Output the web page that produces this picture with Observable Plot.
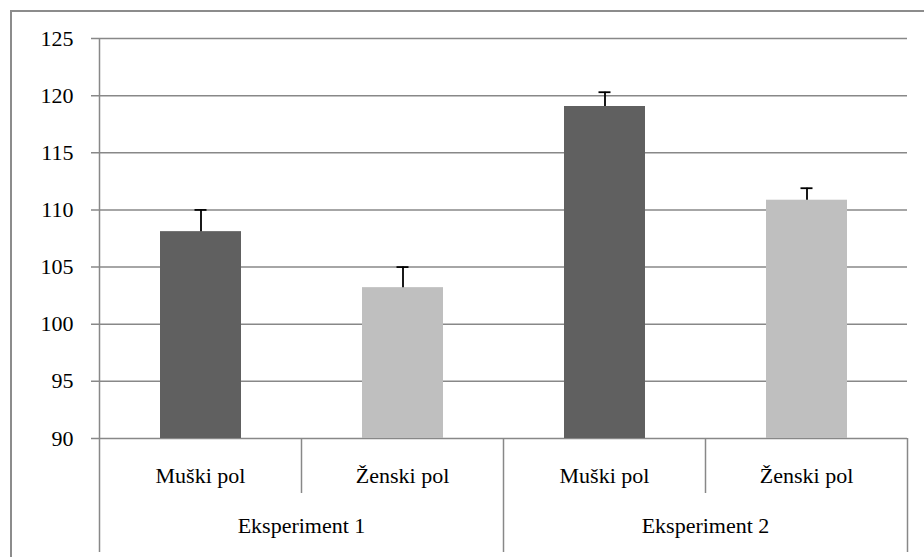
<!DOCTYPE html>
<html>
<head>
<meta charset="utf-8">
<script src="https://cdn.jsdelivr.net/npm/d3@7"></script>
<script src="https://cdn.jsdelivr.net/npm/@observablehq/plot@0.6"></script>
<style>
  body { margin: 0; background: #fff; }
  #wrap { position: relative; width: 924px; height: 557px; overflow: hidden; background: #fff; }
  #chart { position: absolute; left: 0; top: 0; }
  #chart svg, #chart text { font-family: "Liberation Serif", "Times New Roman", serif !important; }
  #border { position: absolute; left: 10px; top: 10px; right: -5px; bottom: -5px;
            border-top: 2px solid #8c8c8c; border-left: 2px solid #8c8c8c; pointer-events: none; }
</style>
</head>
<body>
<div id="wrap"><div id="chart"></div><div id="border"></div></div>
<script>
// ---- data ----
const groups = ["Eksperiment 1", "Eksperiment 1", "Eksperiment 2", "Eksperiment 2"];
const sexes = ["Muški pol", "Ženski pol", "Muški pol", "Ženski pol"];
const means = [108.1, 103.2, 119.05, 110.85];
const upper = [110.0, 105.0, 120.3, 111.9];
const yTicks = [90, 95, 100, 105, 110, 115, 120, 125];
const sexNames = ["Muški pol", "Ženski pol"];
const colors = ["#606060", "#bfbfbf"];

const data = means.map((m, i) => ({
  key: groups[i] + "|" + sexes[i],
  group: groups[i],
  sex: sexes[i],
  mean: m,
  upper: upper[i],
  base: yTicks[0]
}));
const keys = data.map(d => d.key);

const font = "Liberation Serif";
const axisColor = "#888888";

function categoryAxis(index, scales, values, dimensions) {
  const x = scales.x, y = scales.y;
  const bw = x.bandwidth ? x.bandwidth() : 0;
  const centers = keys.map(k => x(k) + bw / 2);
  const step = centers[1] - centers[0];
  const left = centers[0] - step / 2;
  const bottom = y(yTicks[0]);
  const top = y(yTicks[yTicks.length - 1]);
  const deep = dimensions.height - 5;
  const g = d3.create("svg:g");
  const line = (x1, y1, x2, y2) => g.append("line")
    .attr("x1", x1).attr("y1", y1).attr("x2", x2).attr("y2", y2)
    .attr("stroke", axisColor).attr("stroke-width", 1.5);
  // vertical value axis line
  line(left, top, left, deep);
  // separators
  centers.forEach((c, i) => {
    const b = c + step / 2;
    const groupEnd = i === centers.length - 1 || data[i + 1].group !== data[i].group;
    line(b, bottom, b, groupEnd ? deep : bottom + 55);
  });
  // inner labels
  centers.forEach((c, i) => {
    g.append("text").attr("x", c).attr("y", bottom + 45)
      .attr("text-anchor", "middle").attr("font-family", font).attr("font-size", 22)
      .attr("fill", "black").text(data[i].sex);
  });
  // group labels
  const gnames = Array.from(new Set(groups));
  gnames.forEach(gn => {
    const cs = centers.filter((c, i) => data[i].group === gn);
    const gc = d3.mean(cs);
    g.append("text").attr("x", gc).attr("y", bottom + 95)
      .attr("text-anchor", "middle").attr("font-family", font).attr("font-size", 22)
      .attr("fill", "black").text(gn);
  });
  return g.node();
}

const chart = Plot.plot({
  width: 924,
  height: 557,
  marginTop: 38,
  marginBottom: 119,
  marginLeft: 99,
  marginRight: 17,
  style: { fontFamily: font, fontSize: "22px", color: "black", background: "transparent" },
  x: { domain: keys, paddingInner: 0.6, paddingOuter: 0.3, axis: null },
  y: { domain: [yTicks[0], yTicks[yTicks.length - 1]], axis: null },
  color: { domain: sexNames, range: colors },
  marks: [
    Plot.ruleY(yTicks, { stroke: axisColor, strokeWidth: 1.5, insetLeft: -8 }),
    Plot.text(yTicks, { y: d => d, text: d => String(d), frameAnchor: "left", textAnchor: "end",
                        dx: -26, fill: "black", fontSize: 22, fontFamily: font }),
    Plot.barY(data, { x: "key", y1: "base", y2: "mean", fill: "sex" }),
    Plot.ruleX(data, { x: "key", y1: "mean", y2: "upper", stroke: "black", strokeWidth: 1.8 }),
    Plot.tickY(data, { x: "key", y: "upper", stroke: "black", strokeWidth: 1.8, insetLeft: 34.5, insetRight: 34.5 }),
    categoryAxis
  ]
});
document.getElementById("chart").appendChild(chart);
</script>
</body>
</html>
